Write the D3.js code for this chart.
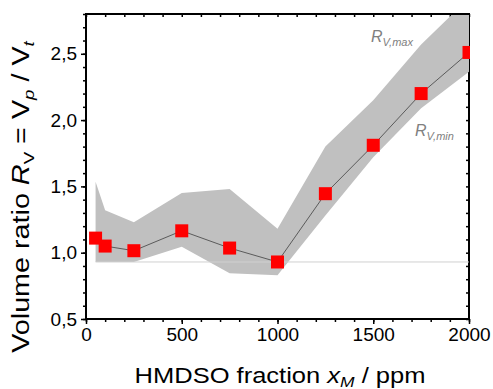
<!DOCTYPE html>
<html>
<head>
<meta charset="utf-8">
<script src="https://cdn.jsdelivr.net/npm/d3@7"></script>
<style>
  body { margin: 0; background: #fff; }
  svg text { font-family: Arial, "Liberation Sans", sans-serif; }
</style>
</head>
<body>
<svg id="chart" width="493" height="389"></svg>
<script>
// HMDSO fraction (ppm) and measured volume ratio
const fraction = [50, 100, 250, 500, 750, 1000, 1250, 1500, 1750, 2000];
const ratio    = [1.11, 1.05, 1.015, 1.165, 1.035, 0.93, 1.445, 1.81, 2.20, 2.51];
// band of R_V,max / R_V,min
const ratioMax = [1.535, 1.32, 1.23, 1.45, 1.48, 1.18, 1.80, 2.15, 2.57, 2.92];
const ratioMin = [0.93, 0.93, 0.93, 1.045, 0.845, 0.83, 1.28, 1.72, 2.09, 2.365];
const baseline = 0.93;
const xTicks = [0, 500, 1000, 1500, 2000];
const yTicks = [0.5, 1.0, 1.5, 2.0, 2.5];

const pL = 86, pR = 469, pT = 14, pB = 319;
const svg = d3.select("#chart");

const x = d3.scaleLinear().domain([0, 2000]).range([pL, pR]);
const y = d3.scaleLinear().domain([0.5, 2.8]).range([pB, pT]);
const fmt = d => d3.format(".1f")(d).replace(".", ",");

svg.append("defs").append("clipPath").attr("id", "clip")
  .append("rect").attr("x", pL).attr("y", pT)
  .attr("width", pR - pL + 1).attr("height", pB - pT);

// axes (right axis drawn below the band, as in the original)
const xMinor = d3.range(0, 2001, 100);
const yMinor = d3.range(5, 29).map(d => d / 10);

svg.append("g").attr("transform", `translate(0,${pB})`)
  .call(d3.axisBottom(x).tickValues(xMinor).tickSize(3).tickFormat(""))
  .call(g => g.select(".domain").remove());
svg.append("g").attr("transform", `translate(0,${pB})`)
  .call(d3.axisBottom(x).tickValues(xTicks).tickSize(5).tickPadding(4).tickFormat(d3.format("d")))
  .call(g => g.select(".domain").remove())
  .selectAll("text").attr("font-size", 19).attr("fill", "#000");

svg.append("g").attr("transform", `translate(${pL},0)`)
  .call(d3.axisLeft(y).tickValues(yMinor).tickSize(3).tickFormat(""))
  .call(g => g.select(".domain").remove());
svg.append("g").attr("transform", `translate(${pL},0)`)
  .call(d3.axisLeft(y).tickValues(yTicks).tickSize(5).tickPadding(4).tickFormat(fmt))
  .call(g => g.select(".domain").remove())
  .selectAll("text").attr("font-size", 19).attr("fill", "#000");

// top axis, ticks inward
svg.append("g").attr("transform", `translate(0,${pT})`)
  .call(d3.axisBottom(x).tickValues(xMinor).tickSize(3).tickFormat(""))
  .call(g => g.select(".domain").remove());
// right axis, ticks inward
svg.append("g").attr("transform", `translate(${pR},0)`)
  .call(d3.axisLeft(y).tickValues(yMinor).tickSize(3).tickFormat(""))
  .call(g => g.select(".domain").remove());
svg.selectAll(".tick line").attr("stroke", "#000").attr("stroke-width", 1.5);

svg.append("line").attr("x1", pR).attr("x2", pR).attr("y1", pT).attr("y2", pB + 1)
  .attr("stroke", "#000").attr("stroke-width", 2);

const plot = svg.append("g").attr("clip-path", "url(#clip)");

// gray band
const band = d3.area()
  .x((d, i) => x(fraction[i]))
  .y0((d, i) => y(ratioMin[i]))
  .y1((d, i) => y(ratioMax[i]));
plot.append("path").datum(fraction).attr("d", band).attr("fill", "#c0c0c0");

// baseline
plot.append("line")
  .attr("x1", x(fraction[0])).attr("x2", x(2000))
  .attr("y1", y(baseline)).attr("y2", y(baseline))
  .attr("stroke", "#d0d0d0").attr("stroke-width", 1);

// connecting line
const line = d3.line().x((d, i) => x(fraction[i])).y((d, i) => y(ratio[i]));
plot.append("path").datum(fraction).attr("d", line)
  .attr("fill", "none").attr("stroke", "#404040").attr("stroke-width", 0.8);

// markers
const ms = 13;
plot.selectAll("rect.pt").data(fraction).enter().append("rect")
  .attr("class", "pt")
  .attr("x", (d) => x(d) - ms / 2)
  .attr("y", (d, i) => y(ratio[i]) - ms / 2)
  .attr("width", ms).attr("height", ms)
  .attr("fill", "#ff0000");

// frame: left, bottom, top
svg.append("line").attr("x1", pL).attr("x2", pL).attr("y1", pT - 1).attr("y2", pB + 1)
  .attr("stroke", "#000").attr("stroke-width", 2);
svg.append("line").attr("x1", pL - 1).attr("x2", pR + 1).attr("y1", pB).attr("y2", pB)
  .attr("stroke", "#000").attr("stroke-width", 2);
svg.append("line").attr("x1", pL - 1).attr("x2", pR + 1).attr("y1", pT).attr("y2", pT)
  .attr("stroke", "#000").attr("stroke-width", 2);

// band labels
const lblMax = svg.append("text").attr("x", 371).attr("y", 42)
  .attr("font-size", 16).attr("fill", "#808080").attr("font-style", "italic");
lblMax.append("tspan").text("R");
lblMax.append("tspan").attr("dy", 4).attr("font-size", 11).text("V,max");
const lblMin = svg.append("text").attr("x", 415).attr("y", 136)
  .attr("font-size", 16).attr("fill", "#808080").attr("font-style", "italic");
lblMin.append("tspan").text("R");
lblMin.append("tspan").attr("dy", 4).attr("font-size", 11).text("V,min");

// axis titles (glyphs in the original are wider than Arial, so stretch along the text)
const xt = svg.append("text").attr("transform", "translate(280,383) scale(1.16,1)")
  .attr("text-anchor", "middle").attr("font-size", 22).attr("fill", "#000");
xt.append("tspan").text("HMDSO fraction ");
xt.append("tspan").attr("font-style", "italic").text("x");
xt.append("tspan").attr("font-style", "italic").attr("font-size", 15).attr("dy", 4).text("M");
xt.append("tspan").attr("dy", -4).text(" / ppm");

const yt = svg.append("text").attr("transform", "translate(29,197) rotate(-90) scale(1.25,1)")
  .attr("text-anchor", "middle").attr("font-size", 23).attr("fill", "#000");
yt.append("tspan").text("Volume ratio ");
yt.append("tspan").attr("font-style", "italic").text("R");
yt.append("tspan").attr("font-size", 15).attr("dy", 5).text("V");
yt.append("tspan").attr("dy", -5).text(" = V");
yt.append("tspan").attr("font-style", "italic").attr("font-size", 15).attr("dy", 5).text("p");
yt.append("tspan").attr("dy", -5).text(" / V");
yt.append("tspan").attr("font-style", "italic").attr("font-size", 15).attr("dy", 5).text("t");
</script>
</body>
</html>
